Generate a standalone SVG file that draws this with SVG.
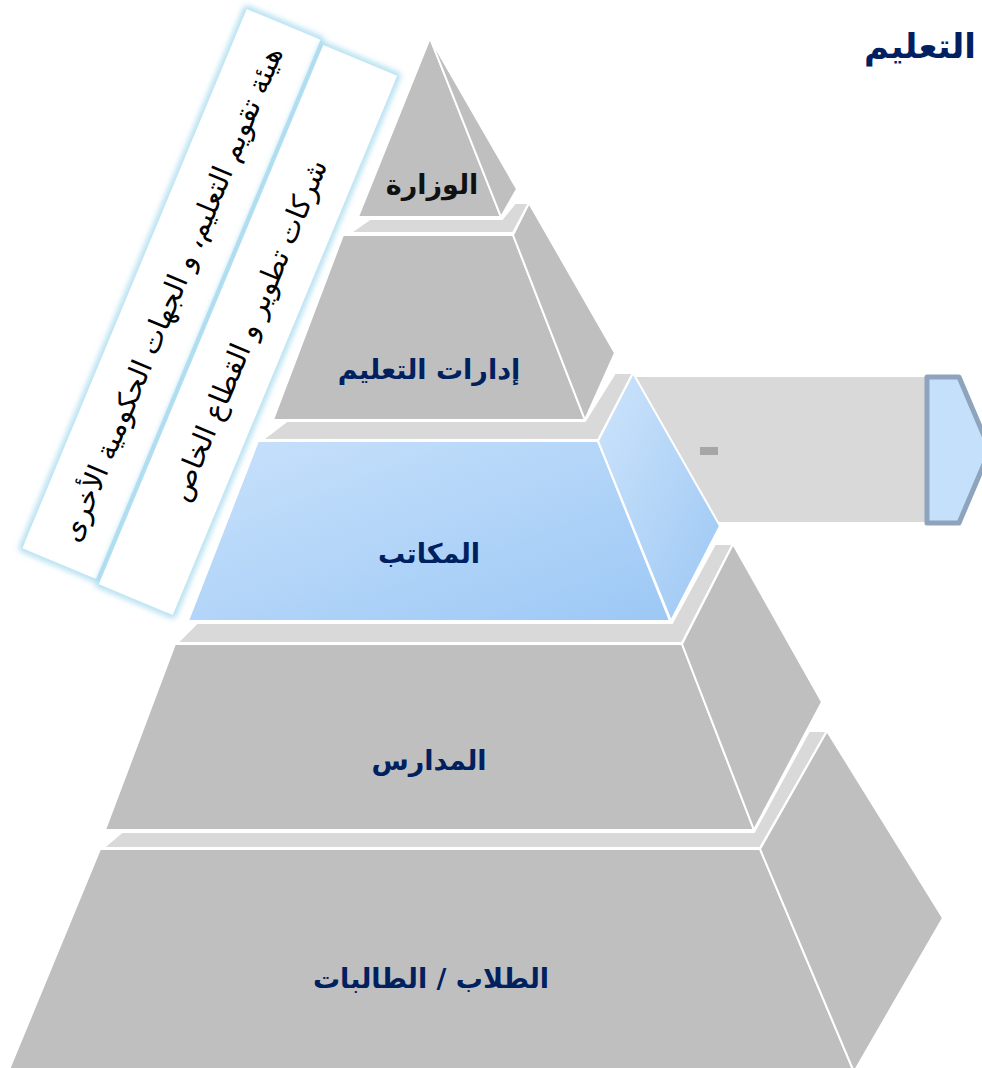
<svg xmlns="http://www.w3.org/2000/svg" width="982" height="1068" viewBox="0 0 982 1068">
<defs>
<style>
.face{fill:#bfbfbf;stroke:#ffffff;stroke-width:2;stroke-linejoin:round}
.ledge{fill:#d9d9d9;stroke:#ffffff;stroke-width:2;stroke-linejoin:round}
.lbl{font-family:"DejaVu Sans","Liberation Sans",sans-serif;font-weight:bold;font-size:27px;fill:#002060;text-anchor:middle}
.box{fill:#ffffff}
.glow{fill:none;stroke:#8fd0ea;stroke-width:5}
.btxt{font-family:"DejaVu Sans","Liberation Sans",sans-serif;font-size:28.5px;fill:#000000;text-anchor:middle}
</style>
<linearGradient id="gBlue" x1="0" y1="0" x2="1" y2="1">
<stop offset="0" stop-color="#c8e1fb"/>
<stop offset="1" stop-color="#9cc8f5"/>
</linearGradient>
<linearGradient id="gBlueSide" x1="0" y1="0" x2="1" y2="1">
<stop offset="0" stop-color="#cde4fb"/>
<stop offset="1" stop-color="#9cc7f4"/>
</linearGradient>
<filter id="blur" x="-20%" y="-20%" width="140%" height="140%">
<feGaussianBlur stdDeviation="3"/>
</filter>
</defs>
<rect width="982" height="1068" fill="#ffffff"/>

<g id="title">
<text x="976" y="58" style="font-family:'DejaVu Sans','Liberation Sans',sans-serif;font-weight:bold;font-size:34px;fill:#002060;text-anchor:end">التعليم</text>
</g>

<g id="band">
<rect x="628" y="377" width="300" height="145" fill="#d9d9d9"/>
<rect x="700" y="447" width="18" height="8" fill="#a6a6a6"/>
<polygon points="927,377 959,377 990,450 959,523 927,523" fill="#c5e0fb" stroke="#8ea4bd" stroke-width="5" stroke-linejoin="round"/>
</g>

<g id="tier5">
<polygon class="ledge" points="103,848 122,832 754,832 809,731 827,731 760,848"/>
<polygon class="face" points="100,849 760,849 854,1072 8,1072"/>
<polygon class="face" points="760,849 827,731 943,918 854,1072"/>
<text class="lbl" x="431" y="988">الطلاب / الطالبات</text>
</g>

<g id="tier4">
<polygon class="ledge" points="177,643 197,623 672,623 715,544 733,544 682,643"/>
<polygon class="face" points="175,644 682,644 754,830 105,830"/>
<polygon class="face" points="682,644 733,544 822,702 754,830"/>
<text class="lbl" x="429" y="770">المدارس</text>
</g>

<g id="tier3">
<polygon class="ledge" points="262,440 287,421 585,421 615,373 633,373 598,440"/>
<polygon points="258,441 598,441 670,621 188,621" fill="url(#gBlue)" stroke="#ffffff" stroke-width="2" stroke-linejoin="round"/>
<polygon points="598,441 633,373 720,526 671,621" fill="url(#gBlueSide)" stroke="#ffffff" stroke-width="2" stroke-linejoin="round"/>
<text class="lbl" x="429" y="563">المكاتب</text>
</g>

<g id="tier2">
<polygon class="ledge" points="350,233 370,219 502,219 515,203 529,203 513,233"/>
<polygon class="face" points="343,235 513,235 585,420 273,420"/>
<polygon class="face" points="513,235 529,203 615,353 585,420"/>
<text class="lbl" x="429" y="379">إدارات التعليم</text>
</g>

<g id="tier1">
<polygon class="face" points="430,38 358,217 501,217"/>
<polygon class="face" points="430,38 517,189 501,217"/>
<text class="lbl" x="432" y="194" style="fill:#111111">الوزارة</text>
</g>

<g id="box1" transform="translate(171.5,294) rotate(-67.4)">
<rect class="glow" x="-292" y="-40" width="584" height="80" filter="url(#blur)"/>
<rect class="box" x="-292" y="-40" width="584" height="80"/>
<text class="btxt" x="0" y="10">هيئة تقويم التعليم، و الجهات الحكومية الأخرى</text>
</g>

<g id="box2" transform="translate(248,330) rotate(-67.4)">
<rect class="glow" x="-292" y="-40" width="584" height="80" filter="url(#blur)"/>
<rect class="box" x="-292" y="-40" width="584" height="80"/>
<text class="btxt" x="0" y="10">شركات تطوير و القطاع الخاص</text>
</g>
</svg>
